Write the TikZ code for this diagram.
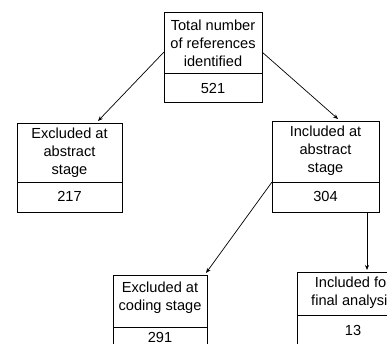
\documentclass[tikz,border=0pt]{standalone}
\usepackage{fontspec}
\setmainfont{Liberation Sans}
\usetikzlibrary{arrows.meta}
\begin{document}
\begin{tikzpicture}[x=1pt,y=-1pt,
  box/.style={draw, line width=0.9pt, inner sep=0pt, anchor=north west},
  txt/.style={align=center, inner sep=0pt, font=\fontsize{14.6}{18}\selectfont},
  conn/.style={line width=0.7pt, -{Stealth[length=5pt,width=4pt]}}]
\useasboundingbox (0,0) rectangle (387,343);
\clip (0,0) rectangle (387,343);
% boxes
\node[box, minimum width=98pt, minimum height=90pt] (top) at (164,12) {};
\node[box, minimum width=105pt, minimum height=89pt] (exA) at (17,123) {};
\node[box, minimum width=107pt, minimum height=91pt] (inA) at (272,121) {};
\node[box, minimum width=94pt, minimum height=90pt] (exC) at (113,275) {};
\node[box, minimum width=112pt, minimum height=90pt] (inF) at (297,272) {};
% dividers
\draw[line width=0.9pt] (top.west |- 0,73) coordinate (topdiv) -- (top.east |- 0,73);
\draw[line width=0.9pt] (exA.west |- 0,182) -- (exA.east |- 0,182);
\draw[line width=0.9pt] (inA.west |- 0,182) coordinate (inAdiv) -- (inA.east |- 0,182);
\draw[line width=0.9pt] (exC.west |- 0,327) -- (exC.east |- 0,327);
\draw[line width=0.9pt] (inF.west |- 0,315) -- (inF.east |- 0,315);
% texts
\node[txt] (topT) at (213,43) {Total number\\of references\\identified};
\node[txt] (topN) at (213,88) {521};
\node[txt] (exAT) at (69.5,153) {Excluded at\\abstract\\stage};
\node[txt] (exAN) at (69.5,196) {217};
\node[txt] (inAT) at (325.5,151) {Included at\\abstract\\stage};
\node[txt] (inAN) at (325.5,196) {304};
\node[txt] (exCT) at (160,298) {Excluded at\\coding stage};
\node[txt] (exCN) at (160,337) {291};
\node[txt] (inFT) at (353,293) {Included for\\final analysis};
\node[txt] (inFN) at (353,330) {13};
% connectors
\coordinate (tl) at (164,52);
\coordinate (tr) at (262,52);
\coordinate (exAin) at (98,121);
\coordinate (inAin) at (338,119);
\coordinate (exCin) at (206,273);
\coordinate (inAout) at (367,212);
\coordinate (inFin) at (367,270);
\draw[conn] (tl) -- (exAin);
\draw[conn] (tr) -- (inAin);
\draw[conn] (inAdiv) -- (exCin);
\draw[conn] (inAout) -- (inFin);
\end{tikzpicture}
\end{document}
